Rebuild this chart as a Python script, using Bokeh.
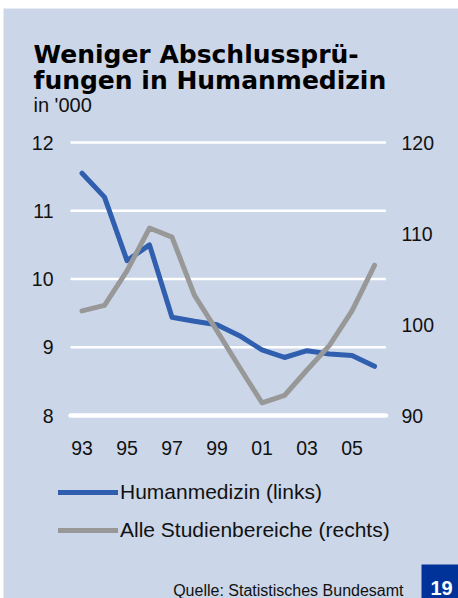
from bokeh.plotting import figure
from bokeh.layouts import column, row
from bokeh.models import Range1d, Label, Legend, LegendItem, Spacer
from bokeh.core.properties import value
from bokeh.embed import file_html
from bokeh.resources import INLINE

# ---- data ----
years = list(range(1993, 2007))
humanmedizin = [11.55, 11.20, 10.27, 10.50, 9.44, 9.38, 9.33, 9.17,
                8.96, 8.85, 8.95, 8.90, 8.88, 8.72]          # left axis, '000
alle_bereiche = [101.5, 102.1, 105.9, 110.6, 109.6, 103.2, 99.3, 95.3,
                 91.4, 92.2, 95.0, 97.7, 101.5, 106.5]        # right axis, '000
x_ticks = [1993, 1995, 1997, 1999, 2001, 2003, 2005]
x_tick_labels = ["93", "95", "97", "99", "01", "03", "05"]
left_ticks = [8, 9, 10, 11, 12]
left_tick_labels = ["8", "9", "10", "11", "12"]
right_ticks = [90, 100, 110, 120]
right_tick_labels = ["90", "100", "110", "120"]

title_lines = ["Weniger Abschlussprü-", "fungen in Humanmedizin"]
subtitle = "in '000"
source = "Quelle: Statistisches Bundesamt"
page_no = "19"
series_names = ["Humanmedizin (links)", "Alle Studienbereiche (rechts)"]

BG = "#CBD6E8"
BLUE = "#2F5FAE"
GRAY = "#989898"
DARK = "#111111"
FONT = "Liberation Sans"
TFONT = "DejaVu Sans"
TICK_SIZE = "19.5px"

# figure sits at page (3, 8); page px -> data helpers
OX, OY = 3, 8
W, H = 455, 590
PXY = 22.5            # px per year
PYU = 68.25           # px per left-axis unit
XA = 1993 - (81.5 - OX) / PXY
XB = XA + W / PXY
YT = 12 + (142 - OY) / PYU
YB = YT - H / PYU
R_PER_L = 7.5         # right units per left unit, right 90 <-> left 8


def dx(px):
    return XA + (px - OX) / PXY


def dy(py):
    return YT - (py - OY) / PYU


p = figure(width=W, height=H, output_backend="svg", toolbar_location=None,
           x_range=Range1d(XA, XB), y_range=Range1d(YB, YT),
           min_border=0)
p.extra_y_ranges = {"r": Range1d(90 + (YB - 8) * R_PER_L,
                                 90 + (YT - 8) * R_PER_L)}
p.background_fill_color = BG
p.border_fill_color = BG
p.outline_line_color = None
p.axis.visible = False
p.grid.visible = False

# grid lines (white), bottom one heavier
n = len(left_ticks) - 1
gx0, gx1 = years[0] - 0.51, years[-1] + 0.51
p.segment(x0=[gx0] * n, x1=[gx1] * n, y0=left_ticks[1:], y1=left_ticks[1:],
          line_color="white", line_width=2.5)
p.segment(x0=[gx0], x1=[gx1], y0=left_ticks[:1], y1=left_ticks[:1],
          line_color="white", line_width=4.5, line_cap="round")

# tick labels
p.text(x=[dx(53)] * len(left_ticks), y=left_ticks, text=left_tick_labels,
       text_align="right", text_baseline="middle", text_font=value(FONT),
       text_font_size=TICK_SIZE, text_color=DARK)
p.text(x=[dx(401)] * len(right_ticks), y=right_ticks, text=right_tick_labels,
       y_range_name="r", text_align="left", text_baseline="middle",
       text_font=value(FONT), text_font_size=TICK_SIZE, text_color=DARK)
p.text(x=x_ticks, y=[dy(447)] * len(x_ticks), text=x_tick_labels,
       text_align="center", text_baseline="middle", text_font=value(FONT),
       text_font_size=TICK_SIZE, text_color=DARK)

# series
r1 = p.line(years, humanmedizin, line_color=BLUE, line_width=5,
            line_cap="round", line_join="round")
r2 = p.line(years, alle_bereiche, y_range_name="r", line_color=GRAY,
            line_width=5, line_cap="round", line_join="round")

legend = Legend(items=[LegendItem(label=series_names[0], renderers=[r1]),
                       LegendItem(label=series_names[1], renderers=[r2])],
                location=(55, 56), orientation="vertical",
                background_fill_alpha=0, border_line_color=None,
                padding=0, margin=0, spacing=14, glyph_width=60,
                glyph_height=24, label_height=24, label_standoff=2,
                label_text_font=FONT, label_text_font_size="21px",
                label_text_color=DARK)
p.add_layout(legend, "center")

# titles and notes
for i, line in enumerate(title_lines):
    p.add_layout(Label(x=dx(33), y=dy([53.5, 79.5][i]), text=line,
                       text_font=TFONT, text_font_style="bold",
                       text_font_size="25px", text_color="black",
                       text_baseline="alphabetic"))
p.add_layout(Label(x=dx(33), y=dy(104), text=subtitle, text_font=FONT,
                   text_font_size="20px", text_color=DARK,
                   text_baseline="alphabetic"))
p.add_layout(Label(x=dx(403), y=dy(590), text=source, text_font=FONT,
                   text_font_size="16px", text_color=DARK,
                   text_align="right", text_baseline="alphabetic"))

# page-number box
p.quad(left=[dx(421)], right=[dx(458)], top=[dy(564)], bottom=[dy(598)],
       fill_color="#003399", line_color=None)
p.add_layout(Label(x=dx(441), y=dy(587), text=page_no, text_font=FONT,
                   text_font_style="bold", text_font_size="20px",
                   text_color="white", text_align="center",
                   text_baseline="alphabetic"))

layout = column(Spacer(height=OY, width=W + OX),
                row(Spacer(width=OX, height=H), p, spacing=0), spacing=0)
open("out.html", "w").write(file_html(layout, INLINE))
